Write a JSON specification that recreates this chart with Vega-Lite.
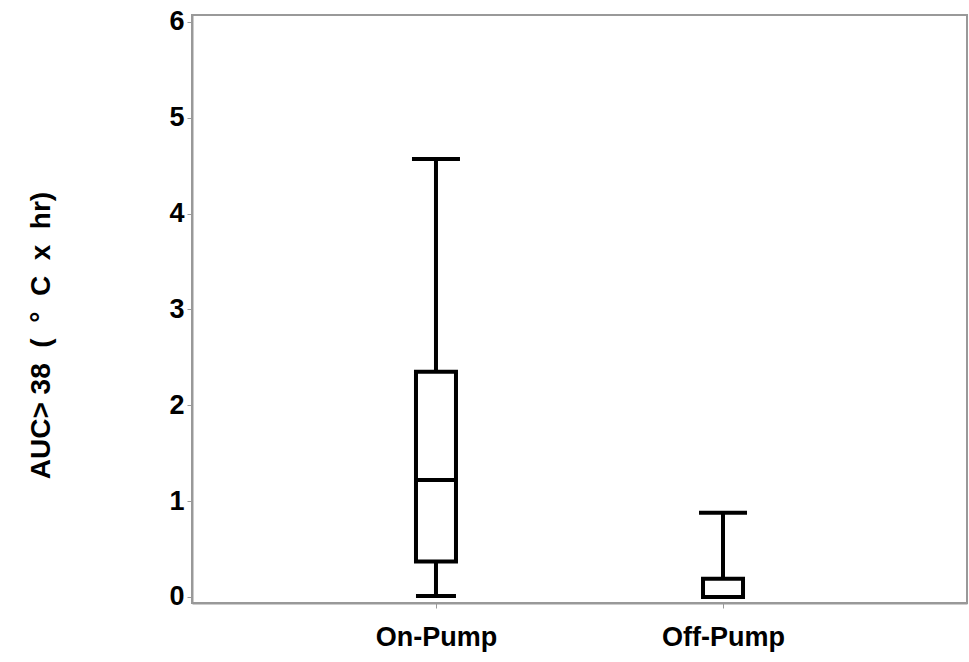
{
  "$schema": "https://vega.github.io/schema/vega-lite/v6.json",
  "width": 775,
  "height": 588,
  "autosize": {"type": "none"},
  "padding": {"left": 192, "top": 15, "right": 2, "bottom": 59},
  "background": "white",
  "config": {
    "view": {"stroke": "#999999", "strokeWidth": 2},
    "font": "Liberation Sans"
  },
  "data": {
    "values": [
      {"group": "On-Pump", "min": 0.01, "q1": 0.37, "median": 1.22, "q3": 2.35, "max": 4.57},
      {"group": "Off-Pump", "min": 0.0, "q1": 0.0, "median": 0.0, "q3": 0.19, "max": 0.88}
    ]
  },
  "encoding": {
    "x": {
      "field": "group",
      "type": "nominal",
      "sort": ["On-Pump", "Off-Pump"],
      "scale": {"type": "point", "padding": 0.85},
      "axis": {
        "title": null,
        "labelAngle": 0,
        "labelFont": "Liberation Sans",
        "labelFontSize": 27,
        "labelFontWeight": "bold",
        "labelColor": "black",
        "labelPadding": 16,
        "domainColor": "#999999",
        "domainWidth": 2,
        "tickColor": "#999999",
        "tickWidth": 1,
        "tickSize": 5,
        "grid": false
      }
    }
  },
  "layer": [
    {
      "mark": {"type": "rule", "color": "black", "strokeWidth": 4},
      "encoding": {
        "y": {
          "field": "min",
          "type": "quantitative",
          "scale": {"domain": [-0.063, 6.073], "nice": false, "zero": false},
          "axis": {
            "title": "AUC>\u00a038\u00a0\u00a0(\u00a0\u00a0°\u00a0\u00a0C\u00a0\u00a0x\u00a0\u00a0hr)",
            "titleFont": "Liberation Sans",
            "titleFontSize": 28,
            "titleFontWeight": "bold",
            "titleColor": "black",
            "titleAngle": -90,
            "titleX": -151,
            "titleY": 320,
            "titleAlign": "center",
            "titleBaseline": "middle",
            "values": [0, 1, 2, 3, 4, 5, 6],
            "format": "d",
            "labelFont": "Liberation Sans",
            "labelFontSize": 27,
            "labelFontWeight": "bold",
            "labelColor": "black",
            "labelPadding": 3,
            "domainColor": "#999999",
            "domainWidth": 2,
            "tickColor": "#999999",
            "tickWidth": 1,
            "tickSize": 5,
            "grid": false
          }
        },
        "y2": {"field": "max"}
      }
    },
    {
      "mark": {"type": "bar", "width": 40, "fill": "white", "stroke": "black", "strokeWidth": 4},
      "encoding": {
        "y": {"field": "q1", "type": "quantitative"},
        "y2": {"field": "q3"}
      }
    },
    {
      "mark": {"type": "tick", "color": "black", "opacity": 1, "size": 48, "thickness": 4},
      "encoding": {"y": {"field": "max", "type": "quantitative"}}
    },
    {
      "mark": {"type": "tick", "color": "black", "opacity": 1, "size": 40, "thickness": 4},
      "encoding": {"y": {"field": "min", "type": "quantitative"}}
    },
    {
      "mark": {"type": "tick", "color": "black", "opacity": 1, "size": 40, "thickness": 4},
      "encoding": {"y": {"field": "median", "type": "quantitative"}}
    }
  ]
}
